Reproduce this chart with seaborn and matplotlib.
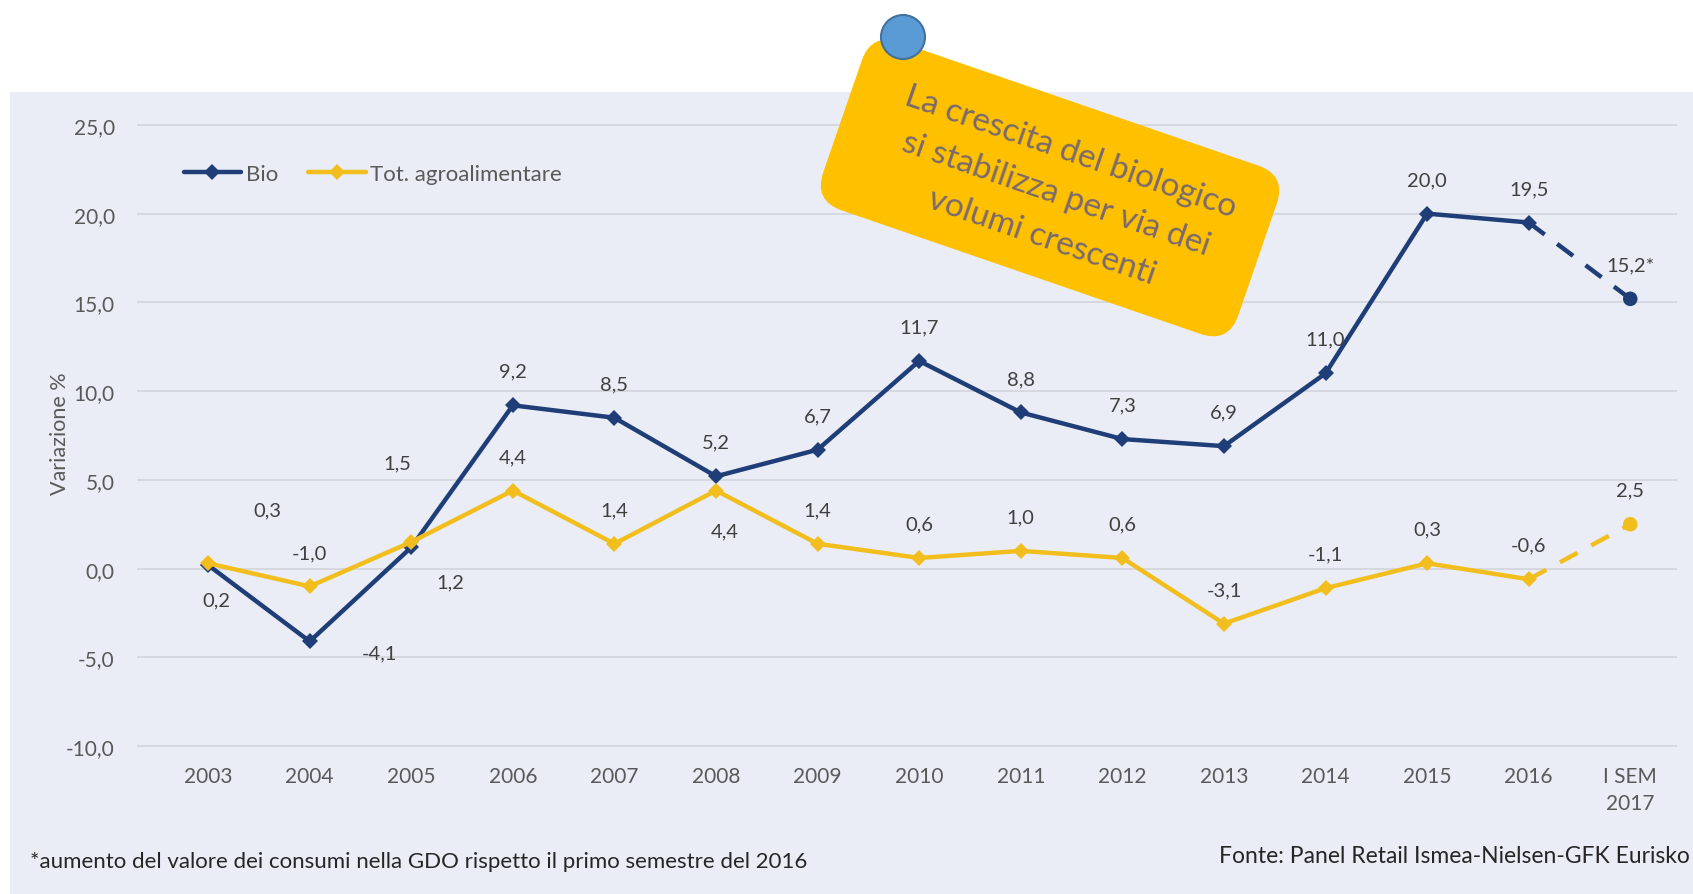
import numpy as np
import pandas as pd
import matplotlib
matplotlib.use('Agg')
import matplotlib.pyplot as plt
import seaborn as sns
from matplotlib.lines import Line2D
from matplotlib.patches import FancyBboxPatch, Circle, Rectangle
from matplotlib.transforms import Affine2D

# ---------------- dati ----------------
categorie = ['2003', '2004', '2005', '2006', '2007', '2008', '2009', '2010',
             '2011', '2012', '2013', '2014', '2015', '2016', 'I SEM\n2017']
bio = [0.2, -4.1, 1.2, 9.2, 8.5, 5.2, 6.7, 11.7, 8.8, 7.3, 6.9, 11.0, 20.0, 19.5, 15.2]
tot = [0.3, -1.0, 1.5, 4.4, 1.4, 4.4, 1.4, 0.6, 1.0, 0.6, -3.1, -1.1, 0.3, -0.6, 2.5]
y_ticks = [-10, -5, 0, 5, 10, 15, 20, 25]

# offset etichette (pixel) dove non stanno sopra il punto
off_bio = {0: (8, -35), 1: (70, -11), 2: (39, -35)}
off_tot = {0: (59, 53), 2: (-14, 79), 5: (9, -40)}

BLU = '#1F3E78'
GIALLO = '#F2BE1E'
GRIGIO = '#595959'
SFONDO = '#EAEDF6'

sns.set_style('white')
plt.rcParams['font.family'] = ['Lato', 'DejaVu Sans']

pos = np.arange(len(categorie))
df = pd.DataFrame({'pos': np.concatenate([pos, pos]),
                   'valore': bio + tot,
                   'serie': ['Bio'] * len(bio) + ['Tot. agroalimentare'] * len(tot)})
palette = {'Bio': BLU, 'Tot. agroalimentare': GIALLO}

fig = plt.figure(figsize=(16.93, 8.95), dpi=100)
fig.patch.set_facecolor('white')
fig.add_artist(Rectangle((10 / 1693, 0), 1, (895 - 93) / 895, transform=fig.transFigure,
                         facecolor=SFONDO, edgecolor='none', zorder=-5))

ax = fig.add_axes([137 / 1693, (895 - 756) / 895, (1677 - 137) / 1693, (756 - 117) / 895])
ax.set_facecolor('none')

solido = df[df['pos'] <= len(categorie) - 2]
tratteggio = df[df['pos'] >= len(categorie) - 2]
ultimo = df[df['pos'] == len(categorie) - 1]

sns.lineplot(data=solido, x='pos', y='valore', hue='serie', palette=palette, ax=ax,
             marker='D', markersize=8, markeredgewidth=0, linewidth=3.2, legend=False, zorder=3)
sns.lineplot(data=tratteggio, x='pos', y='valore', hue='serie', palette=palette, ax=ax,
             linewidth=3.2, dashes=False, legend=False, zorder=3)
for l in ax.lines[-2:]:
    l.set_linestyle((0, (4.5, 3.5)))
sns.scatterplot(data=ultimo, x='pos', y='valore', hue='serie', palette=palette, ax=ax,
                s=110, linewidth=0, legend=False, zorder=4)

# etichette dati
for i, v in enumerate(bio):
    txt = f'{v:.1f}'.replace('.', ',') + ('*' if i == len(bio) - 1 else '')
    ax.annotate(txt, (i, v), xytext=off_bio.get(i, (0, 34)), textcoords='offset pixels',
                ha='center', va='center', fontsize=14.5, color='#404040', zorder=5)
for i, v in enumerate(tot):
    txt = f'{v:.1f}'.replace('.', ',')
    ax.annotate(txt, (i, v), xytext=off_tot.get(i, (0, 34)), textcoords='offset pixels',
                ha='center', va='center', fontsize=14.5, color='#404040', zorder=5)

ax.set_xlim(-0.7, 14.46)
ax.set_ylim(-10.5, 25.5)
ax.set_yticks(y_ticks)
ax.set_yticklabels([f'{t:.1f}'.replace('.', ',') for t in y_ticks])
ax.set_xticks(pos)
ax.set_xticklabels(categorie)
for t in ax.get_xticklabels():
    t.set_linespacing(1.45)
ax.tick_params(axis='both', length=0, labelsize=15, labelcolor=GRIGIO)
ax.tick_params(axis='y', pad=16)
ax.tick_params(axis='x', pad=8)
ax.grid(axis='y', color='#D4D6DE', linewidth=1.3)
ax.set_axisbelow(True)
for s in ax.spines.values():
    s.set_visible(False)
ax.set_xlabel('')
ax.set_ylabel('')

fig.text(60 / 1693, 1 - 434 / 895, 'Variazione %', rotation=90, ha='center', va='center',
         fontsize=15.5, color=GRIGIO)

# legenda
handles = [Line2D([], [], color=BLU, lw=3.2, marker='D', markersize=8, markeredgewidth=0),
           Line2D([], [], color=GIALLO, lw=3.2, marker='D', markersize=8, markeredgewidth=0)]
ax.legend(handles, ['Bio', 'Tot. agroalimentare'], loc='center left',
          bbox_to_anchor=(0.023, 0.909), ncol=2, frameon=False, fontsize=16,
          handlelength=2.6, handletextpad=0.2, columnspacing=1.35, borderpad=0,
          labelcolor=GRIGIO)

# note
fig.text(30 / 1693, 1 - 862 / 895,
         '*aumento del valore dei consumi nella GDO rispetto il primo semestre del 2016',
         ha='left', va='center', fontsize=16, color='#262626')
fig.text(1690 / 1693, 1 - 857 / 895, 'Fonte: Panel Retail Ismea-Nielsen-GFK Eurisko',
         ha='right', va='center', fontsize=16.5, color='#262626')

# riquadro di commento ruotato
cx, cy, w, h = 10.50, 7.06, 4.39, 1.78
rot = Affine2D().rotate_deg_around(cx, cy, -19) + fig.dpi_scale_trans
box = FancyBboxPatch((cx - w / 2, cy - h / 2), w, h, boxstyle='round,pad=0,rounding_size=0.3',
                     transform=rot, facecolor='#FFC000', edgecolor='none', zorder=10)
fig.add_artist(box)
fig.add_artist(Circle((9.03, 8.57), 0.22, transform=fig.dpi_scale_trans,
                      facecolor='#5B9BD5', edgecolor='#41719C', linewidth=1.5, zorder=11))
fig.text(10.56, 7.0, 'La crescita del biologico\nsi stabilizza per via dei\nvolumi crescenti',
         transform=fig.dpi_scale_trans, rotation=-19, rotation_mode='anchor',
         ha='center', va='center', multialignment='center', fontsize=24,
         linespacing=1.6, color='#7A6A6E', zorder=12)

fig.savefig('out.png', dpi=100)
